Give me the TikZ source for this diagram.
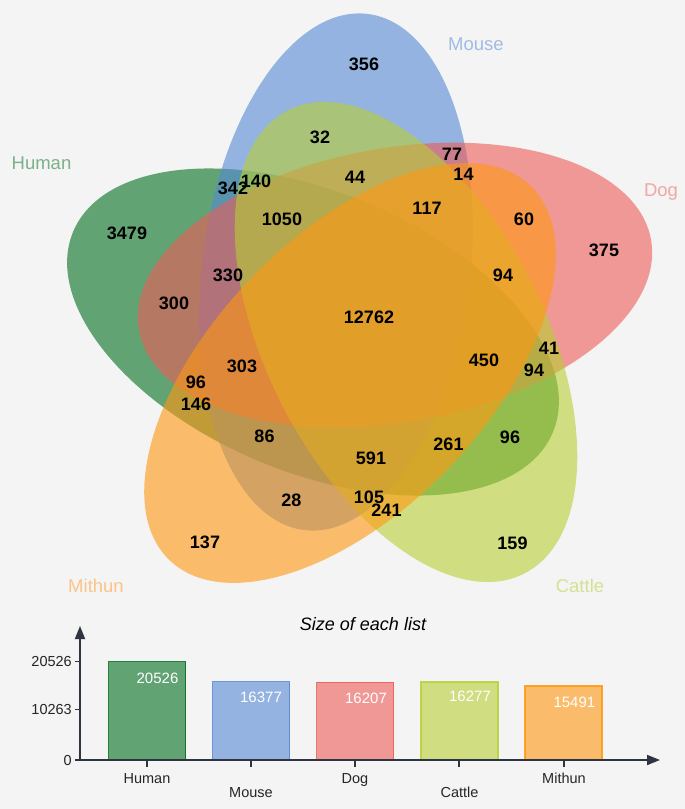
\documentclass[tikz,border=0pt]{standalone}
\usepackage{fontspec}
\setmainfont{Liberation Sans}
\usetikzlibrary{arrows.meta}
\definecolor{bgc}{RGB}{244,244,244}
\definecolor{humc}{RGB}{2,109,31}
\definecolor{mouc}{RGB}{84,137,212}
\definecolor{dogc}{RGB}{237,92,87}
\definecolor{catc}{RGB}{184,207,51}
\definecolor{mitc}{RGB}{255,151,17}
\definecolor{humt}{RGB}{123,176,137}
\definecolor{mout}{RGB}{160,188,230}
\definecolor{dogt}{RGB}{241,166,163}
\definecolor{catt}{RGB}{212,225,147}
\definecolor{mitt}{RGB}{250,197,135}
\definecolor{axc}{RGB}{45,52,66}
\begin{document}
\begin{tikzpicture}[x=1pt,y=-1pt,
  num/.style={font=\fontsize{18}{18}\selectfont\bfseries, inner sep=0pt, text=black},
  setlab/.style={font=\fontsize{18.5}{18.5}\selectfont, inner sep=0pt, anchor=base},
  blob/.style={fill opacity=0.6},
  barbox/.style={fill opacity=0.6, draw opacity=0.85, line width=1.5pt},
  axlab/.style={font=\fontsize{14.5}{14.5}\selectfont, inner sep=0pt, text=black!85},
  vallab/.style={font=\fontsize{15}{15}\selectfont, inner sep=0pt, text=white},
  axline/.style={draw=axc, line width=1.8pt},
  tip/.style={-{Triangle[length=13pt,width=10pt]}}
]
\fill[bgc] (0,0) rectangle (685,809);
\useasboundingbox (0,0) rectangle (685,809);

% ---- Venn sets ----
\fill[humc, blob, shift={(313,332)}, rotate=-22.7] (0,0) ellipse [x radius=260, y radius=140];
\fill[mouc, blob, shift={(336,272)}, rotate=83] (0,0) ellipse [x radius=260, y radius=134];
\fill[dogc, blob, shift={(395,285)}, rotate=10] (0,0) ellipse [x radius=260, y radius=137];
\fill[catc, blob, shift={(406,342)}, rotate=-62.9] (0,0) ellipse [x radius=260, y radius=139];
\fill[mitc, blob, shift={(350,373)}, rotate=46] (0,0) ellipse [x radius=260, y radius=137];

% ---- set labels ----
\node[setlab, text=humt] (lhuman) at (41.5,169) {Human};
\node[setlab, text=mout] (lmouse) at (476,50) {Mouse};
\node[setlab, text=dogt] (ldog) at (661,196) {Dog};
\node[setlab, text=catt] (lcattle) at (580,592) {Cattle};
\node[setlab, text=mitt] (lmithun) at (96,592) {Mithun};

% ---- region counts ----
\node[num] (n356) at (364,64.5) {356};
\node[num] (n32) at (320,137) {32};
\node[num] (n77) at (452,154.5) {77};
\node[num] (n14) at (463.5,174.5) {14};
\node[num] (n44) at (355,177) {44};
\node[num] (n342) at (233,188) {342};
\node[num] (n140) at (256,181) {140};
\node[num] (n117) at (427,208) {117};
\node[num] (n1050) at (282,219) {1050};
\node[num] (n60) at (524,219.5) {60};
\node[num] (n3479) at (127,233.5) {3479};
\node[num] (n375) at (604,250) {375};
\node[num] (n330) at (228,275) {330};
\node[num] (n94a) at (503,275) {94};
\node[num] (n300) at (174,303) {300};
\node[num] (n12762) at (369,317.5) {12762};
\node[num] (n41) at (549,348) {41};
\node[num] (n450) at (484,360) {450};
\node[num] (n303) at (242,366) {303};
\node[num] (n94b) at (534,370) {94};
\node[num] (n96a) at (196,382) {96};
\node[num] (n146) at (196,404.5) {146};
\node[num] (n86) at (264.5,436) {86};
\node[num] (n96b) at (510,437) {96};
\node[num] (n261) at (448.5,444) {261};
\node[num] (n591) at (371,458) {591};
\node[num] (n105) at (369,497) {105};
\node[num] (n28) at (291.5,500) {28};
\node[num] (n241) at (386.5,510) {241};
\node[num] (n137) at (205,542.5) {137};
\node[num] (n159) at (512.5,543) {159};

% ---- bar chart ----
\node[font=\fontsize{18}{18}\selectfont\itshape, inner sep=0pt] (title) at (363,624) {Size of each list};

\fill[humc, barbox, draw=humc] (108.5,661.7) rectangle (185.5,760);
\fill[mouc, barbox, draw=mouc] (212.6,681.5) rectangle (289.6,760);
\fill[dogc, barbox, draw=dogc] (316.7,682.4) rectangle (393.7,760);
\fill[catc, barbox, draw=catc] (420.8,682.1) rectangle (497.8,760);
\fill[mitc, barbox, draw=mitc] (525,685.8) rectangle (602,760);

\coordinate (origin) at (80,760);
\coordinate (ytip) at (80,626);
\coordinate (xtip) at (660,760);
\draw[axline, tip] (origin) -- (ytip);
\draw[axline, tip] (origin) -- (xtip);

\foreach \yy in {661.7,709.3,760}{\draw[axc, line width=1.2pt] (75,\yy) -- (80,\yy);}
\foreach \xx in {147,251,355,459,564}{\draw[axc, line width=1.2pt] (\xx,760) -- (\xx,767);}

\node[axlab, anchor=east] (t20526) at (72,661.7) {20526};
\node[axlab, anchor=east] (t10263) at (72,709.3) {10263};
\node[axlab, anchor=east] (t0) at (72,760) {0};

\node[axlab, anchor=base] (xhuman) at (147,783) {Human};
\node[axlab, anchor=base] (xmouse) at (251,797) {Mouse};
\node[axlab, anchor=base] (xdog) at (355,783) {Dog};
\node[axlab, anchor=base] (xcattle) at (459.5,797) {Cattle};
\node[axlab, anchor=base] (xmithun) at (564,783) {Mithun};

\node[vallab] (v1) at (157.5,678) {20526};
\node[vallab] (v2) at (261,697.5) {16377};
\node[vallab] (v3) at (366,698.5) {16207};
\node[vallab] (v4) at (470,696.7) {16277};
\node[vallab] (v5) at (574.4,702) {15491};
\end{tikzpicture}
\end{document}
